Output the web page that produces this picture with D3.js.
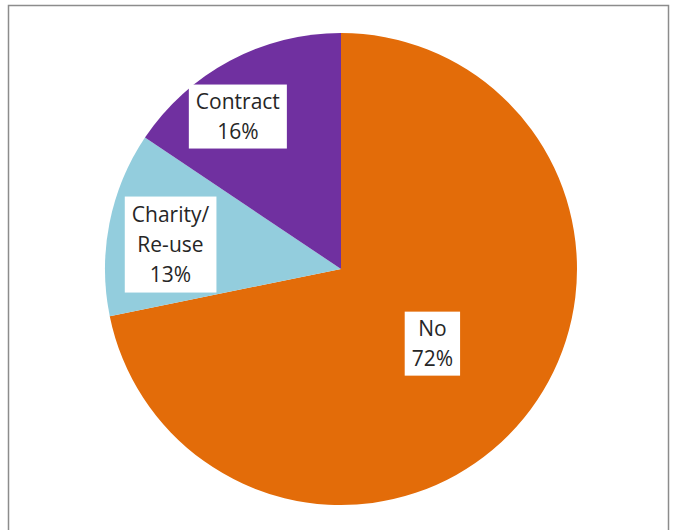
<!DOCTYPE html>
<html>
<head>
<meta charset="utf-8">
<script src="https://cdn.jsdelivr.net/npm/d3@7"></script>
<style>
  body { margin: 0; background: #fff; }
  svg { display: block; }
</style>
</head>
<body>
<svg id="chart" width="674" height="530"></svg>
<script>
// data (shares in %)
var categories = ["No", "Charity/Re-use", "Contract"];
var labelLines = [["No"], ["Charity/", "Re-use"], ["Contract"]];
var values = [71.8, 12.6, 15.6];
var colors = ["#E36C09", "#93CDDD", "#7030A0"];

var width = 674, height = 530;
var cx = 341, cy = 269, radius = 236;
// label placement: share of radius and angle nudge (degrees)
var labelRadius = [0.5, 0.73, 0.78];
var labelShift = [0, -3, -6];

var svg = d3.select("#chart");

// chart area border
svg.append("rect")
   .attr("x", 8.5).attr("y", 5.5)
   .attr("width", 660).attr("height", 540)
   .attr("fill", "#fff")
   .attr("stroke", "#8c8c8c")
   .attr("stroke-width", 1.5);

var pie = d3.pie().sort(null).value(function(d){ return d; });
var arcs = pie(values);
var arc = d3.arc().innerRadius(0).outerRadius(radius);

var g = svg.append("g").attr("transform", "translate(" + cx + "," + cy + ")");

g.selectAll("path.slice")
 .data(arcs)
 .enter().append("path")
 .attr("class", "slice")
 .attr("d", arc)
 .attr("fill", function(d, i){ return colors[i]; });

var lineH = 30, fontSize = 21;
arcs.forEach(function(d, i){
  var a = (d.startAngle + d.endAngle) / 2 + labelShift[i] * Math.PI / 180;
  var r = radius * labelRadius[i];
  var c = [r * Math.sin(a), -r * Math.cos(a)];
  var lines = labelLines[i].concat([Math.round(values[i]) + "%"]);
  var lg = g.append("g").attr("transform", "translate(" + c[0] + "," + c[1] + ")");
  var box = lg.append("rect").attr("fill", "#fff");
  var t = lg.append("text")
     .attr("text-anchor", "middle")
     .attr("font-family", "'Open Sans', 'Noto Sans', sans-serif")
     .attr("font-size", fontSize)
     .attr("fill", "#262626");
  var y0 = -(lines.length - 1) * lineH / 2;
  lines.forEach(function(s, k){
    t.append("tspan")
     .attr("x", 0)
     .attr("y", y0 + k * lineH)
     .attr("dy", "0.35em")
     .text(s);
  });
  var bb = t.node().getBBox();
  var padX = 7;
  var boxH = lines.length * 32;
  box.attr("x", bb.x - padX)
     .attr("y", -boxH / 2)
     .attr("width", bb.width + 2 * padX)
     .attr("height", boxH);
});
</script>
</body>
</html>
